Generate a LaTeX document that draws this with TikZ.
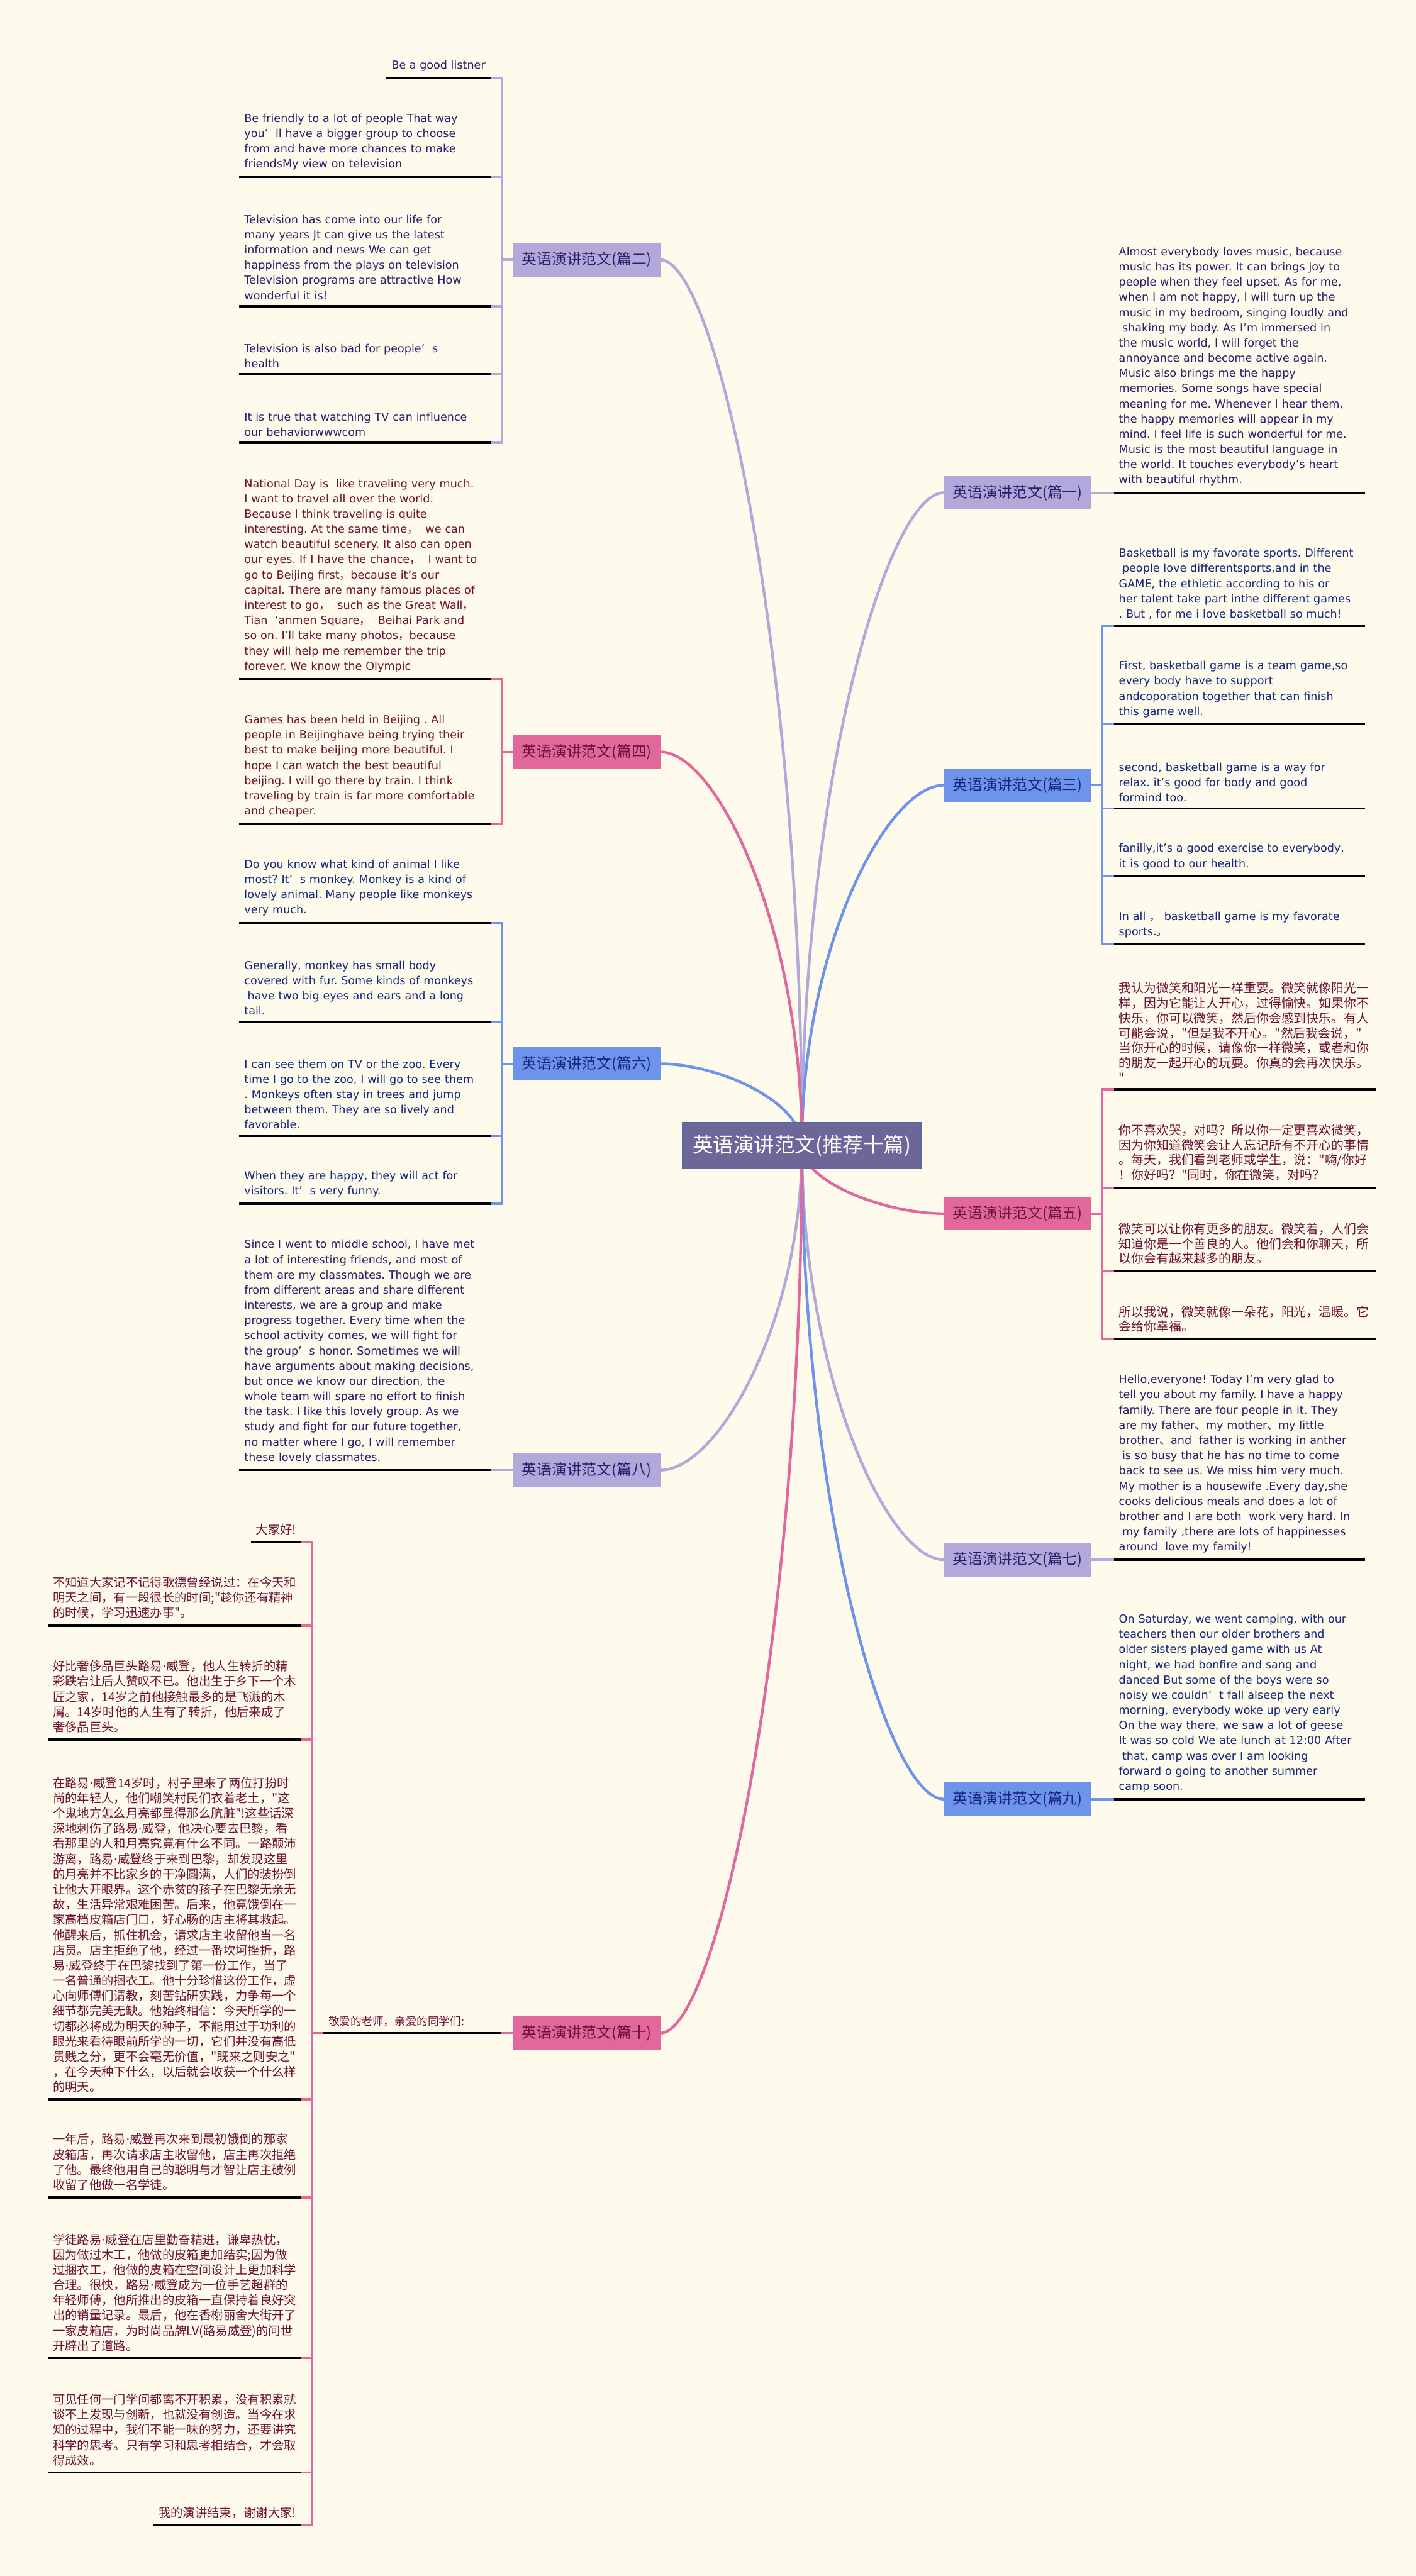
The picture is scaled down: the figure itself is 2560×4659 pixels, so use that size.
\documentclass[tikz,border=0pt]{standalone}
\usepackage{fontspec}
\setmainfont{DejaVu Sans}
\newfontfamily\cjk{Noto Sans CJK SC}
\usetikzlibrary{calc,positioning}

\definecolor{paper}{HTML}{FEFBEC}
\definecolor{lav}{HTML}{B3A8DA}
\definecolor{rose}{HTML}{E2689C}
\definecolor{sky}{HTML}{6E93EA}
\definecolor{hubfill}{HTML}{6D6699}
\definecolor{inkp}{HTML}{2B1D6B}
\definecolor{inkr}{HTML}{6C1234}
\definecolor{inkb}{HTML}{15267C}

\newcommand\zc{{\cjk ，}}
\newcommand\zd{{\cjk 、}}
\newcommand\zs{\hspace*{6pt}}
\newcommand\mdot{{\rmfamily ·}}
\frenchspacing

\begin{document}
\begin{tikzpicture}[%
       x=1pt, y=-1pt,
       limb/.style={line width=5pt,
         to path={.. controls ($(\tikztostart)!0.55!(\tikztostart|-\tikztotarget)$)
                         and ($(\tikztotarget)!0.4!(\tikztostart|-\tikztotarget)$) .. (\tikztotarget)}},
       twig/.style={line width=4pt},
       rule/.style={line width=4pt, black},
       root/.style={fill=hubfill, draw=sky!70!black, line width=2pt, text=white,
         minimum width=433pt, minimum height=84pt, font=\cjk\fontsize{37}{40}\selectfont},
       branch/.style={minimum width=266pt, minimum height=60pt, inner sep=0pt,
         font=\cjk\fontsize{27}{30}\selectfont},
       leaf/.style={align=left, inner xsep=9pt, inner ysep=12pt,
         font=\fontsize{20}{27.5}\selectfont},
       wide/.style={text width=436pt},
       hanzi/.style={text width=440pt, font=\cjk\fontsize{22}{27.5}\selectfont},
       lleaf/.style={leaf, anchor=south east},
       rleaf/.style={leaf, anchor=south west}
     ]
     \fill[paper] (0,0) rectangle (2560,4659);
     \useasboundingbox (0,0) rectangle (2560,4659);

     % main topics
     \coordinate (hub) at (1450,2072);
     \node[branch, fill=lav,  text=inkp] (b1)  at (1840,891)  {英语演讲范文(篇一)};
     \node[branch, fill=lav,  text=inkp] (b2)  at (1061,470)  {英语演讲范文(篇二)};
     \node[branch, fill=sky,  text=inkb] (b3)  at (1840,1420) {英语演讲范文(篇三)};
     \node[branch, fill=rose, text=inkr] (b4)  at (1061,1360) {英语演讲范文(篇四)};
     \node[branch, fill=rose, text=inkr] (b5)  at (1840,2195) {英语演讲范文(篇五)};
     \node[branch, fill=sky,  text=inkb] (b6)  at (1061,1924) {英语演讲范文(篇六)};
     \node[branch, fill=lav,  text=inkp] (b7)  at (1840,2821) {英语演讲范文(篇七)};
     \node[branch, fill=lav,  text=inkp] (b8)  at (1061,2659) {英语演讲范文(篇八)};
     \node[branch, fill=sky,  text=inkb] (b9)  at (1840,3254) {英语演讲范文(篇九)};
     \node[branch, fill=rose, text=inkr] (b10) at (1061,3677) {英语演讲范文(篇十)};

     \draw[limb, lav]  (hub) to (b1.west);
     \draw[limb, lav]  (hub) to (b2.east);
     \draw[limb, sky]  (hub) to (b3.west);
     \draw[limb, rose] (hub) to (b4.east);
     \draw[limb, rose] (hub) to (b5.west);
     \draw[limb, sky]  (hub) to (b6.east);
     \draw[limb, lav]  (hub) to (b7.west);
     \draw[limb, lav]  (hub) to (b8.east);
     \draw[limb, sky]  (hub) to (b9.west);
     \draw[limb, rose] (hub) to (b10.east);

     \node[root] (root) at (hub) {英语演讲范文(推荐十篇)};

     % left side
     \node[lleaf, text=inkp] (l2a) at (887,141) {Be a good listner};
     \node[lleaf, wide, text=inkp] (l2b) at (887,320) {Be friendly to a lot of people That way\\you’\ \ ll have a bigger group to choose\\from and have more chances to make\\friendsMy view on television};
     \node[lleaf, wide, text=inkp] (l2c) at (887,554) {Television has come into our life for\\many years Jt can give us the latest\\information and news We can get\\happiness from the plays on television\\Television programs are attractive How\\wonderful it is!};
     \node[lleaf, wide, text=inkp] (l2d) at (887,677) {Television is also bad for people’\ \ s\\health};
     \node[lleaf, wide, text=inkp] (l2e) at (887,801) {It is true that watching TV can influence\\our behaviorwwwcom};

     \node[lleaf, wide, text=inkr] (l4a) at (887,1228) {National Day is\ \ like traveling very much.\\I want to travel all over the world.\\Because I think traveling is quite\\interesting. At the same time\zc\ \ we can\\watch beautiful scenery. It also can open\\our eyes. If I have the chance\zc\ \ I want to\\go to Beijing first\zc because it's our\\capital. There are many famous places of\\interest to go\zc\ \ such as the Great Wall\zc\\Tian\ \ ‘anmen Square\zc\ \ Beihai Park and\\so on. I'll take many photos\zc because\\they will help me remember the trip\\forever. We know the Olympic};
     \node[lleaf, wide, text=inkr] (l4b) at (887,1490) {Games has been held in Beijing . All\\people in Beijinghave being trying their\\best to make beijing more beautiful. I\\hope I can watch the best beautiful\\beijing. I will go there by train. I think\\traveling by train is far more comfortable\\and cheaper.};

     \node[lleaf, wide, text=inkb] (l6a) at (887,1669) {Do you know what kind of animal I like\\most? It’\ \ s monkey. Monkey is a kind of\\lovely animal. Many people like monkeys\\very much.};
     \node[lleaf, wide, text=inkb] (l6b) at (887,1848) {Generally, monkey has small body\\covered with fur. Some kinds of monkeys\\\zs have two big eyes and ears and a long\\tail.};
     \node[lleaf, wide, text=inkb] (l6c) at (887,2054) {I can see them on TV or the zoo. Every\\time I go to the zoo, I will go to see them\\. Monkeys often stay in trees and jump\\between them. They are so lively and\\favorable.};
     \node[lleaf, wide, text=inkb] (l6d) at (887,2177) {When they are happy, they will act for\\visitors. It’\ \ s very funny.};

     \node[lleaf, wide, text=inkp] (l8a) at (887,2659) {Since I went to middle school, I have met\\a lot of interesting friends, and most of\\them are my classmates. Though we are\\from different areas and share different\\interests, we are a group and make\\progress together. Every time when the\\school activity comes, we will fight for\\the group’\ \ s honor. Sometimes we will\\have arguments about making decisions,\\but once we know our direction, the\\whole team will spare no effort to finish\\the task. I like this lovely group. As we\\study and fight for our future together,\\no matter where I go, I will remember\\these lovely classmates.};

     \node[lleaf, text width=304pt, text=inkr, font=\cjk\fontsize{20}{26}\selectfont] (m10) at (907,3677) {敬爱的老师，亲爱的同学们:};
     \node[lleaf, hanzi, text width=, text=inkr] (l10a) at (545,2789) {大家好!};
     \node[lleaf, hanzi, text=inkr] (l10b) at (545,2940) {不知道大家记不记得歌德曾经说过：在今天和\\明天之间，有一段很长的时间;"趁你还有精神\\的时候，学习迅速办事"。};
     \node[lleaf, hanzi, text=inkr] (l10c) at (545,3146) {好比奢侈品巨头路易\mdot 威登，他人生转折的精\\彩跌宕让后人赞叹不已。他出生于乡下一个木\\匠之家，14岁之前他接触最多的是飞溅的木\\屑。14岁时他的人生有了转折，他后来成了\\奢侈品巨头。};
     \node[lleaf, hanzi, text=inkr] (l10d) at (545,3797) {在路易\mdot 威登14岁时，村子里来了两位打扮时\\尚的年轻人，他们嘲笑村民们衣着老土，"这\\个鬼地方怎么月亮都显得那么肮脏"!这些话深\\深地刺伤了路易\mdot 威登，他决心要去巴黎，看\\看那里的人和月亮究竟有什么不同。一路颠沛\\游离，路易\mdot 威登终于来到巴黎，却发现这里\\的月亮并不比家乡的干净圆满，人们的装扮倒\\让他大开眼界。这个赤贫的孩子在巴黎无亲无\\故，生活异常艰难困苦。后来，他竟饿倒在一\\家高档皮箱店门口，好心肠的店主将其救起。\\他醒来后，抓住机会，请求店主收留他当一名\\店员。店主拒绝了他，经过一番坎坷挫折，路\\易\mdot 威登终于在巴黎找到了第一份工作，当了\\一名普通的捆衣工。他十分珍惜这份工作，虚\\心向师傅们请教，刻苦钻研实践，力争每一个\\细节都完美无缺。他始终相信：今天所学的一\\切都必将成为明天的种子，不能用过于功利的\\眼光来看待眼前所学的一切，它们并没有高低\\贵贱之分，更不会毫无价值，"既来之则安之"\\，在今天种下什么，以后就会收获一个什么样\\的明天。};
     \node[lleaf, hanzi, text=inkr] (l10e) at (545,3974) {一年后，路易\mdot 威登再次来到最初饿倒的那家\\皮箱店，再次请求店主收留他，店主再次拒绝\\了他。最终他用自己的聪明与才智让店主破例\\收留了他做一名学徒。};
     \node[lleaf, hanzi, text=inkr] (l10f) at (545,4265) {学徒路易\mdot 威登在店里勤奋精进，谦卑热忱，\\因为做过木工，他做的皮箱更加结实;因为做\\过捆衣工，他做的皮箱在空间设计上更加科学\\合理。很快，路易\mdot 威登成为一位手艺超群的\\年轻师傅，他所推出的皮箱一直保持着良好突\\出的销量记录。最后，他在香榭丽舍大街开了\\一家皮箱店，为时尚品牌LV(路易威登)的问世\\开辟出了道路。};
     \node[lleaf, hanzi, text=inkr] (l10g) at (545,4472) {可见任何一门学问都离不开积累，没有积累就\\谈不上发现与创新，也就没有创造。当今在求\\知的过程中，我们不能一味的努力，还要讲究\\科学的思考。只有学习和思考相结合，才会取\\得成效。};
     \node[lleaf, hanzi, text width=, text=inkr] (l10h) at (545,4567) {我的演讲结束，谢谢大家!};

     % right side
     \node[rleaf, wide, text=inkp] (l1a) at (2014,891) {Almost everybody loves music, because\\music has its power. It can brings joy to\\people when they feel upset. As for me,\\when I am not happy, I will turn up the\\music in my bedroom, singing loudly and\\\zs shaking my body. As I'm immersed in\\the music world, I will forget the\\annoyance and become active again.\\Music also brings me the happy\\memories. Some songs have special\\meaning for me. Whenever I hear them,\\the happy memories will appear in my\\mind. I feel life is such wonderful for me.\\Music is the most beautiful language in\\the world. It touches everybody's heart\\with beautiful rhythm.};

     \node[rleaf, wide, text=inkb] (l3a) at (2014,1132) {Basketball is my favorate sports. Different\\\zs people love differentsports,and in the\\GAME, the ethletic according to his or\\her talent take part inthe different games\\. But , for me i love basketball so much!};
     \node[rleaf, wide, text=inkb] (l3b) at (2014,1310) {First, basketball game is a team game,so\\every body have to support\\andcoporation together that can finish\\this game well.};
     \node[rleaf, wide, text=inkb] (l3c) at (2014,1462) {second, basketball game is a way for\\relax. it's good for body and good\\formind too.};
     \node[rleaf, wide, text=inkb] (l3d) at (2014,1585) {fanilly,it's a good exercise to everybody,\\it is good to our health.};
     \node[rleaf, wide, text=inkb] (l3e) at (2014,1708) {In all \zc\ basketball game is my favorate\\sports.{\cjk 。}};

     \node[rleaf, hanzi, text width=456pt, font=\cjk\fontsize{22.6}{27}\selectfont, text=inkr] (l5a) at (2014,1970) {我认为微笑和阳光一样重要。微笑就像阳光一\\样，因为它能让人开心，过得愉快。如果你不\\快乐，你可以微笑，然后你会感到快乐。有人\\可能会说，"但是我不开心。"然后我会说，"\\当你开心的时候，请像你一样微笑，或者和你\\的朋友一起开心的玩耍。你真的会再次快乐。\\"};
     \node[rleaf, hanzi, text width=456pt, font=\cjk\fontsize{22.6}{27}\selectfont, text=inkr] (l5b) at (2014,2148) {你不喜欢哭，对吗？所以你一定更喜欢微笑，\\因为你知道微笑会让人忘记所有不开心的事情\\。每天，我们看到老师或学生，说："嗨/你好\\！你好吗？"同时，你在微笑，对吗？};
     \node[rleaf, hanzi, text width=456pt, font=\cjk\fontsize{22.6}{27}\selectfont, text=inkr] (l5c) at (2014,2299) {微笑可以让你有更多的朋友。微笑着，人们会\\知道你是一个善良的人。他们会和你聊天，所\\以你会有越来越多的朋友。};
     \node[rleaf, hanzi, text width=456pt, font=\cjk\fontsize{22.6}{27}\selectfont, text=inkr] (l5d) at (2014,2422) {所以我说，微笑就像一朵花，阳光，温暖。它\\会给你幸福。};

     \node[rleaf, wide, text=inkp] (l7a) at (2014,2821) {Hello,everyone! Today I'm very glad to\\tell you about my family. I have a happy\\family. There are four people in it. They\\are my father\zd my mother\zd my little\\brother\zd and\ \ father is working in anther\\\zs is so busy that he has no time to come\\back to see us. We miss him very much.\\My mother is a housewife .Every day,she\\cooks delicious meals and does a lot of\\brother and I are both\ \ work very hard. In\\\zs my family ,there are lots of happinesses\\around\ \ love my family!};

     \node[rleaf, wide, text=inkb] (l9a) at (2014,3254) {On Saturday, we went camping, with our\\teachers then our older brothers and\\older sisters played game with us At\\night, we had bonfire and sang and\\danced But some of the boys were so\\noisy we couldn’\ \ t fall alseep the next\\morning, everybody woke up very early\\On the way there, we saw a lot of geese\\It was so cold We ate lunch at 12:00 After\\\zs that, camp was over I am looking\\forward o going to another summer\\camp soon.};

     % brackets
     \foreach \n in {l2a,l2b,l2c,l2d,l2e} \draw[twig, lav] (b2.west) -- ++(-20,0) |- (\n.south east);
     \foreach \n in {l4a,l4b} \draw[twig, rose] (b4.west) -- ++(-20,0) |- (\n.south east);
     \foreach \n in {l6a,l6b,l6c,l6d} \draw[twig, sky] (b6.west) -- ++(-20,0) |- (\n.south east);
     \draw[twig, lav] (b8.west) -- ++(-20,0) |- (l8a.south east);
     \draw[twig, rose] (b10.west) -- ++(-20,0) |- (m10.south east);
     \foreach \n in {l10a,l10b,l10c,l10d,l10e,l10f,l10g,l10h} \draw[twig, rose] (m10.south west) -- ++(-20,0) |- (\n.south east);
     \draw[twig, lav] (b1.east) -- ++(20,0) |- (l1a.south west);
     \foreach \n in {l3a,l3b,l3c,l3d,l3e} \draw[twig, sky] (b3.east) -- ++(20,0) |- (\n.south west);
     \foreach \n in {l5a,l5b,l5c,l5d} \draw[twig, rose] (b5.east) -- ++(20,0) |- (\n.south west);
     \draw[twig, lav] (b7.east) -- ++(20,0) |- (l7a.south west);
     \draw[twig, sky] (b9.east) -- ++(20,0) |- (l9a.south west);

     % underlines
     \foreach \n in {l2a,l2b,l2c,l2d,l2e,l4a,l4b,l6a,l6b,l6c,l6d,l8a,m10,
                     l10a,l10b,l10c,l10d,l10e,l10f,l10g,l10h,
                     l1a,l3a,l3b,l3c,l3d,l3e,l5a,l5b,l5c,l5d,l7a,l9a}
       \draw[rule] (\n.south west) -- (\n.south east);
\end{tikzpicture}
\end{document}
